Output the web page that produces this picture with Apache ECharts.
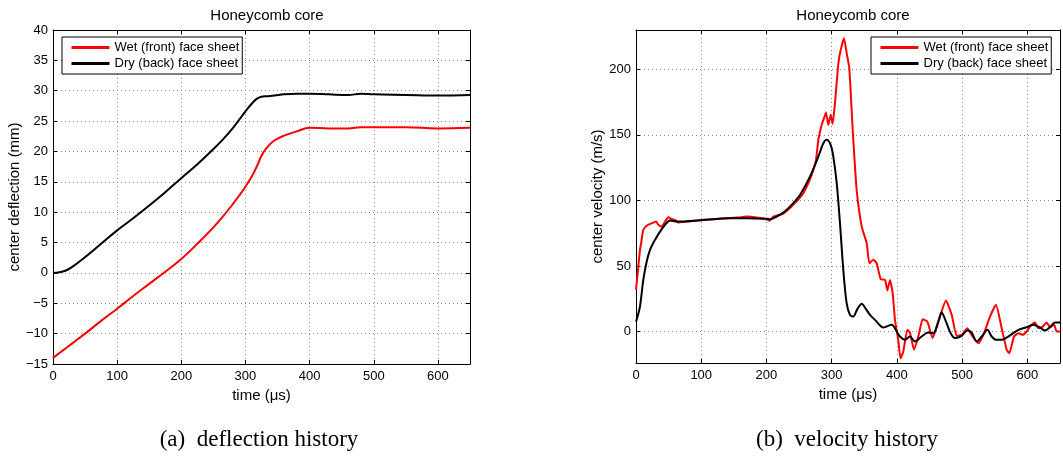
<!DOCTYPE html>
<html>
<head>
<meta charset="utf-8">
<script src="https://cdn.jsdelivr.net/npm/echarts@6/dist/echarts.min.js"></script>
<style>html,body{margin:0;padding:0;background:#fff;}#c{width:1063px;height:458px;}</style>
</head>
<body>
<div id="c"></div>
<script>
// ---- Data ----
const chartTitle = 'Honeycomb core';
const seriesNames = ['Wet (front) face sheet', 'Dry (back) face sheet'];
const captionA = '(a)  deflection history';
const captionB = '(b)  velocity history';
const deflYTicks = [-15, -10, -5, 0, 5, 10, 15, 20, 25, 30, 35, 40];
const velYTicks = [0, 50, 100, 150, 200];

// Deflection history (mm) vs time (µs)
const timeDefl = [0, 10, 20, 30, 50, 75, 100, 125, 150, 175, 200, 225, 250, 265, 280, 290, 300, 310, 318, 325, 333, 345, 360, 380, 400, 430, 460, 480, 500, 550, 600, 650];
const wetDefl = [-14, -13.2, -12.4, -11.6, -10.0, -7.9, -5.9, -3.8, -1.8, 0.2, 2.3, 4.8, 7.5, 9.3, 11.3, 12.7, 14.2, 15.9, 17.6, 19.3, 20.6, 21.8, 22.6, 23.3, 23.9, 23.8, 23.8, 24.0, 24.0, 24.0, 23.8, 23.9];
const dryDefl = [0, 0.1, 0.4, 1.0, 2.6, 4.8, 7.0, 9.0, 11.1, 13.3, 15.6, 17.9, 20.4, 22.0, 23.8, 25.2, 26.6, 27.9, 28.7, 29.0, 29.1, 29.2, 29.4, 29.5, 29.5, 29.4, 29.3, 29.5, 29.4, 29.3, 29.2, 29.3];

// Velocity history (m/s) vs time (µs)
const timeVelWet = [0, 3.6, 6.1, 8.7, 11.2, 16.4, 21.5, 26.6, 30.7, 34.2, 39.3, 44.5, 49.6, 54.7, 59.8, 64.9, 77.7, 100, 118.6, 140, 160, 169.7, 185, 200, 205, 210.5, 226, 241, 256.5, 266.7, 271.8, 276, 279.5, 284.6, 288.2, 291.3, 294.8, 298.5, 301.5, 305, 310.2, 313.8, 318.9, 323, 327, 332.2, 338.3, 346, 353.7, 357.7, 363.8, 368.9, 375.1, 381.8, 385.3, 389.4, 393.5, 397, 402, 405.5, 409.8, 415.9, 420, 426.2, 432.8, 439.5, 446.6, 454.8, 463.5, 475.2, 484, 491.6, 499.3, 507.9, 516, 524.8, 533.5, 542.7, 551.9, 560.6, 568.3, 572.3, 579.5, 586.2, 592.8, 598.9, 604, 611.7, 616.8, 623.5, 629.6, 634.7, 640.9, 645, 650];
const wetVel = [31.8, 49.6, 62.3, 70, 77.5, 80.6, 82.1, 83.1, 83.9, 81.4, 80, 83.9, 87.2, 85.7, 85.2, 83.1, 83.9, 85, 85.7, 86.5, 87.2, 87.7, 87, 85.6, 84.5, 87.7, 90, 96.6, 105.5, 116, 123.3, 131, 146.2, 157.6, 162.7, 167, 157.6, 165.2, 158.4, 174.1, 204.6, 214.8, 223.7, 212.3, 200.8, 153.8, 108, 80, 67.4, 52.1, 54.7, 52.1, 40, 39.4, 31.3, 39.4, 29.3, 8.9, -6.3, -20.5, -15.2, 1.3, -0.8, -14, -3.8, 9.4, 7.6, -5, 7.6, 23.6, 12.7, -3.3, -2.5, 2.5, -3.8, -8.9, -1.3, 11.4, 20.4, 2.5, -14, -16.5, -3.8, -1.3, -2.5, 0, 3.8, 6.9, 2.5, 3.8, 6.9, 3.3, 5.1, 0, 0];
const timeVelDry = [0, 1, 6.1, 11.2, 16.4, 21.5, 29.1, 36.8, 44.5, 52.1, 62.4, 93, 144, 169.7, 200, 205, 215.6, 228, 241, 251.4, 266.7, 279.5, 287.2, 292.3, 298.4, 302.5, 307.7, 312.7, 317.8, 322.9, 328, 333.1, 339.3, 346, 352.6, 358.7, 366.4, 379.2, 392, 399.6, 404.7, 412.4, 420, 427.7, 437.9, 448.1, 455.8, 463.5, 468.6, 475.2, 482.4, 489, 499.3, 507.9, 514.6, 522.3, 530, 538.7, 545.3, 551.9, 560.6, 570.8, 579.5, 588.7, 598.9, 609.1, 618.3, 627, 634.7, 642.3, 650];
const dryVel = [7.6, 8.9, 19.1, 39.4, 53.4, 62.3, 69.9, 76.2, 81.4, 84.6, 83.9, 84.6, 86.5, 86.5, 86, 85.6, 87.7, 91.5, 97.9, 104.2, 118.2, 133.4, 143.6, 146.2, 142.4, 133.4, 113.2, 82.7, 47, 21.6, 12.7, 11.4, 17.1, 21.1, 17.1, 12.7, 8.9, 3.1, 5.1, 0, -3.8, -6.3, -3.8, -7.6, -3.8, -0.8, -1.3, 7.6, 14.5, 7.6, -1.3, -5, -3.3, 0.8, -0.8, -7.6, -3.8, 1.3, -3.8, -6.3, -6.3, -3.8, -0.8, 1.8, 3.3, 5.1, 3.3, 0.8, 3.3, 6.9, 6.9];

// ---- Helpers ----
const zip = (xs, ys) => xs.map((x, i) => [x, ys[i]]);
const FONT = 'Liberation Sans';
const minusFmt = v => String(v).replace('-', '\u2212');
const tickStyle = { show: true, inside: true, length: 4, lineStyle: { color: '#000', width: 1 } };
const axisLineStyle = { show: true, onZero: false, lineStyle: { color: '#000', width: 1 } };
const splitStyle = { show: true, lineStyle: { color: '#8a8a8a', width: 1, type: [1, 3] } };
const labelStyle = { color: '#000', fontFamily: FONT, fontSize: 13 };
const nameStyle = { color: '#000', fontFamily: FONT, fontSize: 15 };

function xAxes(grid) {
  return [
    { type: 'value', gridIndex: grid, min: 0, max: 650, interval: 100, position: 'bottom',
      axisLine: axisLineStyle, axisTick: tickStyle, splitLine: splitStyle,
      axisLabel: Object.assign({ margin: 6, showMaxLabel: false }, labelStyle),
      name: 'time (\u03bcs)', nameLocation: 'middle', nameGap: 18, nameTextStyle: nameStyle },
    { type: 'value', gridIndex: grid, min: 0, max: 650, interval: 100, position: 'top',
      axisLine: axisLineStyle, axisTick: tickStyle, splitLine: { show: false }, axisLabel: { show: false } }
  ];
}

function legendAt(left) {
  return { data: seriesNames, orient: 'vertical', left: left, top: 37, padding: [4, 3, 4, 8], itemGap: 3,
    itemWidth: 38, itemHeight: 14, borderColor: '#000', borderWidth: 1, backgroundColor: '#fff',
    itemStyle: { opacity: 0, color: 'transparent', borderWidth: 0 },
    lineStyle: { width: 3 },
    textStyle: { fontFamily: FONT, fontSize: 13, color: '#000', padding: [0, 0, 0, 0] }, selectedMode: false };
}

const option = {
  animation: false,
  backgroundColor: '#fff',
  title: [
    { text: chartTitle, left: 262, top: 3, textAlign: 'center', textStyle: { fontFamily: FONT, fontSize: 15, fontWeight: 'normal', color: '#000' } },
    { text: chartTitle, left: 848, top: 3, textAlign: 'center', textStyle: { fontFamily: FONT, fontSize: 15, fontWeight: 'normal', color: '#000' } },
    { text: captionA, left: 254, top: 423, textAlign: 'center', textStyle: { fontFamily: 'Liberation Serif', fontSize: 23, fontWeight: 'normal', color: '#000' } },
    { text: captionB, left: 842, top: 423, textAlign: 'center', textStyle: { fontFamily: 'Liberation Serif', fontSize: 23, fontWeight: 'normal', color: '#000' } }
  ],
  legend: [legendAt(62), legendAt(871)],
  grid: [
    { left: 53, top: 30, width: 417, height: 334 },
    { left: 636, top: 30, width: 424, height: 333 }
  ],
  xAxis: [].concat(xAxes(0), xAxes(1)),
  yAxis: [
    { type: 'value', gridIndex: 0, min: -15, max: 40, interval: 5, position: 'left',
      axisLine: axisLineStyle, axisTick: tickStyle, splitLine: splitStyle,
      axisLabel: Object.assign({ margin: 5, formatter: minusFmt }, labelStyle),
      name: 'center deflection (mm)', nameLocation: 'middle', nameGap: 31, nameTextStyle: nameStyle },
    { type: 'value', gridIndex: 0, min: -15, max: 40, interval: 5, position: 'right',
      axisLine: axisLineStyle, axisTick: tickStyle, splitLine: { show: false }, axisLabel: { show: false } },
    { type: 'value', gridIndex: 1, min: -24, max: 230, position: 'left',
      axisLine: axisLineStyle, axisTick: Object.assign({ customValues: velYTicks }, tickStyle), splitLine: splitStyle,
      axisLabel: Object.assign({ margin: 5, customValues: velYTicks, formatter: minusFmt }, labelStyle),
      name: 'center velocity (m/s)', nameLocation: 'middle', nameGap: 31, nameTextStyle: nameStyle },
    { type: 'value', gridIndex: 1, min: -24, max: 230, position: 'right',
      axisLine: axisLineStyle, axisTick: Object.assign({ customValues: velYTicks }, tickStyle), splitLine: { show: false },
      axisLabel: { show: false, customValues: velYTicks } }
  ],
  series: [
    { name: seriesNames[0], type: 'line', xAxisIndex: 0, yAxisIndex: 0, data: zip(timeDefl, wetDefl),
      smooth: 0.4, symbol: 'none', lineStyle: { color: '#ff0000', width: 2 }, itemStyle: { color: '#ff0000' } },
    { name: seriesNames[1], type: 'line', xAxisIndex: 0, yAxisIndex: 0, data: zip(timeDefl, dryDefl),
      smooth: 0.4, symbol: 'none', lineStyle: { color: '#000', width: 2 }, itemStyle: { color: '#000' } },
    { name: seriesNames[0], type: 'line', xAxisIndex: 2, yAxisIndex: 2, data: zip(timeVelWet, wetVel),
      smooth: 0.15, symbol: 'none', lineStyle: { color: '#ff0000', width: 2 }, itemStyle: { color: '#ff0000' } },
    { name: seriesNames[1], type: 'line', xAxisIndex: 2, yAxisIndex: 2, data: zip(timeVelDry, dryVel),
      smooth: 0.3, symbol: 'none', lineStyle: { color: '#000', width: 2 }, itemStyle: { color: '#000' } }
  ]
};

const chart = echarts.init(document.getElementById('c'), null, { renderer: 'canvas' });
chart.setOption(option);
</script>
</body>
</html>
